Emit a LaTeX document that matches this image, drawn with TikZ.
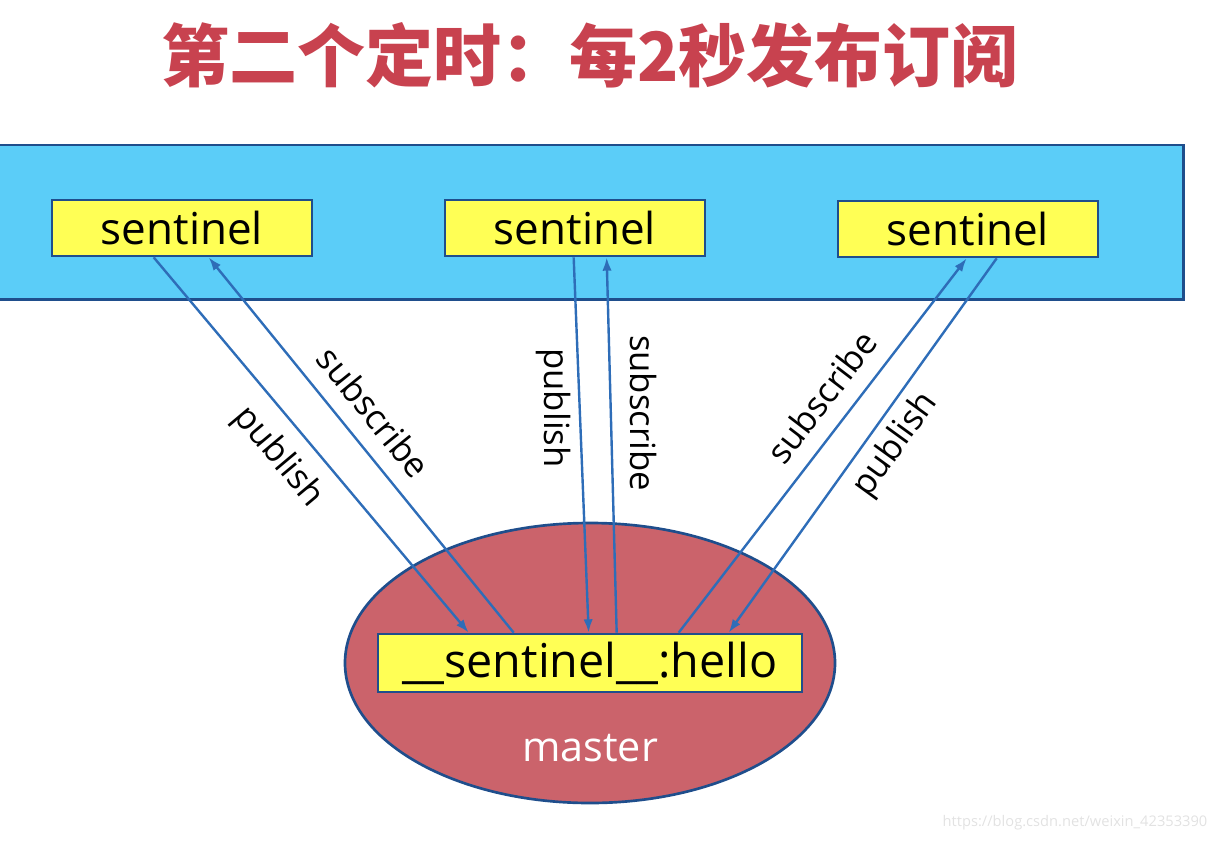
\documentclass[tikz,border=0pt]{standalone}
\usepackage{fontspec}
\setmainfont{Open Sans}
\newfontfamily\cjk{Noto Sans CJK SC}
\usetikzlibrary{arrows.meta,calc,shapes.geometric}
\definecolor{TitleRed}{HTML}{C8424F}
\definecolor{BandBlue}{HTML}{5BCDF8}
\definecolor{EdgeBlue}{HTML}{1F4E8C}
\definecolor{BoxYellow}{HTML}{FFFF55}
\definecolor{MasterRed}{HTML}{CB636B}
\definecolor{ArrowBlue}{HTML}{2E6DB8}
\definecolor{markgray}{HTML}{E2E2E2}

\begin{document}
\begin{tikzpicture}[x=0.75pt,y=-0.75pt,
  sentbox/.style={draw=EdgeBlue,fill=BoxYellow,line width=2pt,minimum width=195pt,minimum height=42pt,inner sep=0pt,font=\fontsize{33}{36}\selectfont},
  flow/.style={ArrowBlue,line width=1.8pt,-{Latex[length=10pt,width=7pt]}},
  lbl/.style={font=\fontsize{26}{28}\selectfont}]
  \useasboundingbox (0,0) rectangle (1220,842);
  \node[font=\cjk\bfseries\fontsize{51}{56}\selectfont,text=TitleRed] (title) at (590,55) {第二个定时：每2秒发布订阅};
  % sentinel band
  \node[fill=BandBlue,anchor=north west,minimum width=887.25pt,minimum height=115.5pt,inner sep=0pt] (band) at (0,145) {};
  \draw[EdgeBlue,line width=2pt] (band.north west) -- (band.north east) -- (band.south east) -- (band.south west);
  \node[sentbox] (s1) at (182,228) {sentinel};
  \node[sentbox] (s2) at (575,228) {sentinel};
  \node[sentbox] (s3) at (968,229) {sentinel};
  % master
  \node[ellipse,draw=EdgeBlue,fill=MasterRed,line width=2pt,minimum width=367.5pt,minimum height=210pt] (master) at (590,663) {};
  \node[sentbox,minimum width=318pt,minimum height=43.5pt,font=\fontsize{35}{38}\selectfont] (hello) at (590,663) {\_\_sentinel\_\_:hello};
  \node[text=white,font=\fontsize{31}{34}\selectfont] (mname) at (590,748) {master};
  % publish / subscribe
  \draw[flow] ($(s1.south west)+(103,0)$) -- ($(hello.north west)+(92,0)$);
  \draw[flow] ($(hello.north west)+(137,0)$) -- ($(s1.south west)+(158,0)$);
  \draw[flow] ($(s2.south west)+(130,0)$) -- ($(hello.north west)+(212,0)$);
  \draw[flow] ($(hello.north west)+(240,0)$) -- ($(s2.south west)+(163,0)$);
  \draw[flow] ($(hello.north west)+(302,0)$) -- ($(s3.south west)+(130,0)$);
  \draw[flow] ($(s3.south west)+(160,0)$) -- ($(hello.north west)+(352,0)$);
  \node[lbl,rotate=-50] (p1) at (278,457) {publish};
  \node[lbl,rotate=-51] (b1) at (374,412) {subscribe};
  \node[lbl,rotate=-90] (p2) at (553,408) {publish};
  \node[lbl,rotate=-90] (b2) at (643,413) {subscribe};
  \node[lbl,rotate=52.5] (b3) at (822,397) {subscribe};
  \node[lbl,rotate=54] (p3) at (896,445) {publish};
  \node[text=markgray,font=\fontsize{11}{13}\selectfont] (mark) at (1075,823) {https://blog.csdn.net/weixin\_42353390};
\end{tikzpicture}
\end{document}
